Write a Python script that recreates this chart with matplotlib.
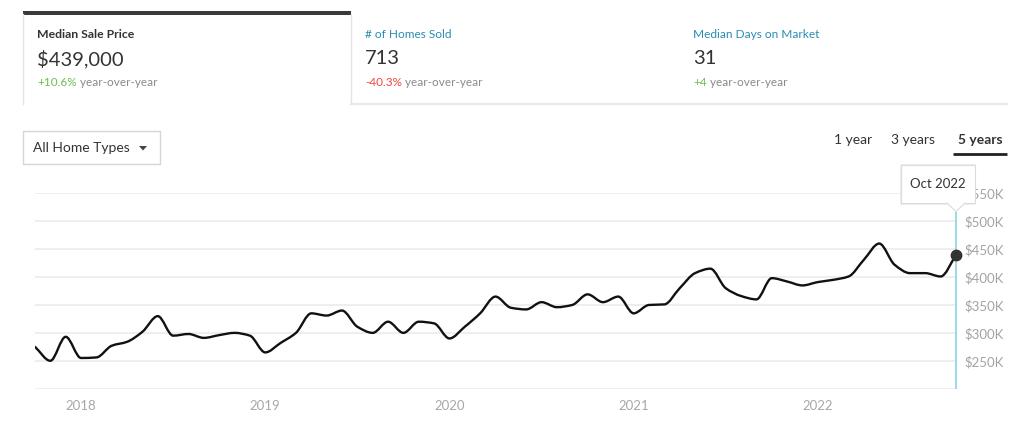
import numpy as np
import pandas as pd
import matplotlib
matplotlib.use('Agg')
import matplotlib.pyplot as plt
from matplotlib.path import Path
from matplotlib.patches import PathPatch, Rectangle, FancyBboxPatch, Polygon

plt.rcParams['font.family'] = ['Lato', 'DejaVu Sans']

# monthly median sale price, thousands of dollars
months = pd.date_range('2017-10-01', periods=61, freq='MS')
prices = [275, 250, 293,
          255, 256, 277, 284, 302, 330, 295, 298, 291, 296, 300, 295,
          265, 282, 300, 335, 331, 340, 311, 300, 320, 300, 320, 317,
          290, 311, 335, 365, 345, 342, 355, 346, 350, 369, 355, 365,
          335, 350, 351, 380, 407, 415, 380, 366, 360, 398, 392, 385,
          391, 395, 401, 431, 460, 422, 407, 407, 401, 439]

y_ticks = [250, 300, 350, 400, 450, 500, 550]
y_labels = ['$250K', '$300K', '$350K', '$400K', '$450K', '$500K', '$550K']

metric_titles = ['Median Sale Price', '# of Homes Sold', 'Median Days on Market']
metric_values = ['$439,000', '713', '31']
metric_changes = ['+10.6%', '-40.3%', '+4']
change_colors = ['#6bbf4e', '#f0463c', '#6bbf4e']
range_options = ['1 year', '3 years', '5 years']
home_type = 'All Home Types'
tooltip_label = 'Oct 2022'

W, H = 1024, 430


def monotone_path(x, y):
    # cubic bezier segments with monotone tangents (like d3 curveMonotoneX)
    x = np.asarray(x, float)
    y = np.asarray(y, float)
    h = np.diff(x)
    d = np.diff(y) / h
    m = np.zeros_like(y)
    m[0], m[-1] = d[0], d[-1]
    for i in range(1, len(y) - 1):
        if d[i - 1] * d[i] <= 0:
            m[i] = 0
        else:
            m[i] = 3 * (h[i - 1] + h[i]) / ((2 * h[i] + h[i - 1]) / d[i - 1] + (h[i] + 2 * h[i - 1]) / d[i])
    verts = [(x[0], y[0])]
    codes = [Path.MOVETO]
    for i in range(len(h)):
        verts += [(x[i] + h[i] / 3, y[i] + m[i] * h[i] / 3),
                  (x[i + 1] - h[i] / 3, y[i + 1] - m[i + 1] * h[i] / 3),
                  (x[i + 1], y[i + 1])]
        codes += [Path.CURVE4] * 3
    return Path(verts, codes)


fig = plt.figure(figsize=(W / 100, H / 100), dpi=100)

# ---- chart ----
left, right, top, bottom = 35, 956, 193.3, 388.7
ax = fig.add_axes([left / W, (H - bottom) / H, (right - left) / W, (bottom - top) / H])
x = np.arange(len(prices))
ax.set_xlim(x[0], x[-1])
ax.set_ylim(200, 550)
ax.set_facecolor('none')
for s in ax.spines.values():
    s.set_visible(False)
for v in [200] + y_ticks:
    ax.axhline(v, color='#ebebeb', lw=1.2, zorder=0)

ax.add_patch(PathPatch(monotone_path(x, prices), fill=False, ec='#111111', lw=1.7,
                       capstyle='round', joinstyle='round', zorder=3))

# cursor line + point at last month
ax.vlines(x[-1], 200, 516, color='#7fd0e0', lw=1.1, zorder=2, clip_on=False)
ax.plot(x[-1], prices[-1], 'o', color='#333333', ms=7.5, zorder=4, clip_on=False)

ax.yaxis.tick_right()
ax.set_yticks(y_ticks)
ax.set_yticklabels(y_labels)
jan = [i for i, d in enumerate(months) if d.month == 1]
ax.set_xticks(jan)
ax.set_xticklabels([str(months[i].year) for i in jan])
ax.tick_params(axis='y', length=0, pad=6, labelsize=9.5, labelcolor='#a3a3a3')
ax.tick_params(axis='x', length=0, pad=8, labelsize=9.5, labelcolor='#a8a8a8')

# ---- overlay in pixel coordinates ----
ov = fig.add_axes([0, 0, 1, 1], zorder=5)
ov.set_xlim(0, W)
ov.set_ylim(H, 0)
ov.axis('off')
ov.set_facecolor('none')

# tabs
ov.plot([23, 23], [14, 104], color='#e4e4e4', lw=1)
ov.plot([351, 351], [14, 104], color='#e4e4e4', lw=1)
ov.plot([351, 1007], [104, 104], color='#e8e8e8', lw=1.5)
ov.add_patch(Rectangle((23, 11), 328, 3.5, color='#3a3a3a', lw=0))

tab_x = [37, 365, 693]
for i in range(3):
    title_kw = dict(fontsize=8.8, color='#333333', fontweight='bold') if i == 0 else \
        dict(fontsize=8.6, color='#2a8cb2')
    ov.text(tab_x[i], 35, metric_titles[i], va='center', ha='left', **title_kw)
    ov.text(tab_x[i], 59, metric_values[i], va='center', ha='left', fontsize=14.5, color='#333333')
    t = ov.text(tab_x[i], 82, metric_changes[i], va='center', ha='left', fontsize=8.5,
                color=change_colors[i])
    ov.annotate(' year-over-year', xy=(1, 0.5), xycoords=t, va='center', ha='left',
                fontsize=8.5, color='#8a8a8a')

# dropdown
ov.add_patch(Rectangle((23, 131), 137, 33, fill=False, ec='#d6d6d6', lw=1))
ov.text(33, 148, home_type, va='center', ha='left', fontsize=10, color='#333333')
ov.add_patch(Polygon([(139, 146), (147, 146), (143, 150.5)], color='#444444', lw=0))

# range buttons
range_x = [834, 891, 958]
for i, lab in enumerate(range_options):
    ov.text(range_x[i], 140.5, lab, va='center', ha='left', fontsize=10, color='#333333',
            fontweight='bold' if i == 2 else 'normal')
ov.plot([953, 1007], [154, 154], color='#222222', lw=2, solid_capstyle='butt')

# tooltip
ov.add_patch(FancyBboxPatch((900, 164), 76, 41, boxstyle='round,pad=0,rounding_size=2',
                            fc='#e2e2e2', ec='none', alpha=0.6))
ov.add_patch(Rectangle((901, 165), 74, 38, fc='white', ec='#dcdcdc', lw=0.8))
ov.add_patch(Polygon([(947, 202.5), (956, 211), (965, 202.5)], fc='white', ec='none'))
ov.plot([947, 956, 965], [203, 211.5, 203], color='#dcdcdc', lw=0.8)
ov.text(937.5, 184, tooltip_label, va='center', ha='center', fontsize=9.5, color='#333333')

fig.savefig('out.png', dpi=100, facecolor='white')
